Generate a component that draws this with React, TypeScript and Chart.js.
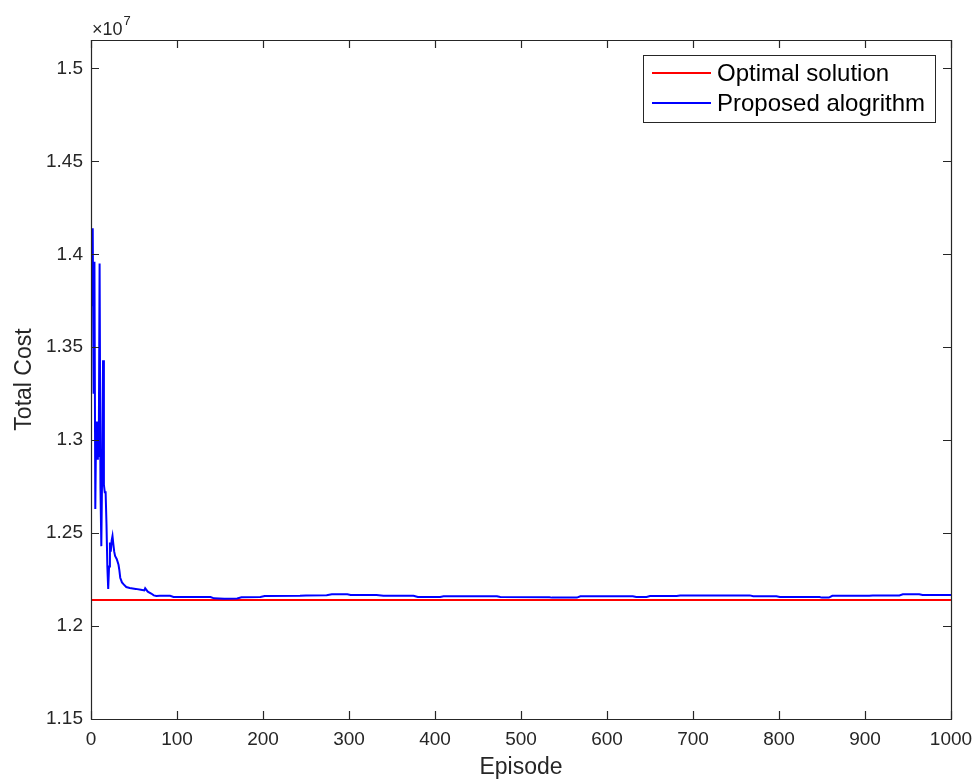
import React, { useEffect, useRef } from "react";
import { Chart, registerables } from "chart.js";

Chart.register(...registerables);

// ---- data (cost values in units of 1e7) ----
const SCALE = 1e7;
const episodes = [
  1, 2, 3, 4, 5, 6, 7, 8, 9, 10, 11, 12, 13, 14, 15, 16, 17, 18, 19, 20,
  21, 22, 23, 24, 25, 26, 27, 28, 30, 32, 33, 34, 36, 38, 41, 45, 52, 58,
  62, 63, 66, 70, 73, 76, 80, 92, 96, 120, 139, 143, 155, 170, 175, 197,
  202, 243, 250, 274, 280, 298, 302, 332, 340, 375, 380, 406, 410, 472,
  476, 533, 536, 565, 569, 630, 634, 646, 650, 681, 685, 766, 770, 797,
  801, 847, 850, 858, 862, 905, 909, 940, 944, 963, 967, 1000,
];
const proposedCost = [
  1.372, 1.414, 1.325, 1.396, 1.263, 1.31, 1.29, 1.31, 1.291, 1.395, 1.275,
  1.243, 1.285, 1.343, 1.276, 1.272, 1.272, 1.255, 1.232, 1.22,
  1.232, 1.245, 1.24, 1.246, 1.2485, 1.244, 1.24, 1.2377, 1.236, 1.233,
  1.23, 1.226, 1.2235, 1.2224, 1.221, 1.2205, 1.22, 1.2195,
  1.2192, 1.2203, 1.2185, 1.2175, 1.2165, 1.2162, 1.2163, 1.2163, 1.2157,
  1.2156, 1.2156, 1.2149, 1.2147, 1.2148, 1.2155, 1.2156,
  1.2162, 1.2163, 1.2165, 1.2166, 1.2171, 1.2171, 1.2167, 1.2167, 1.2163,
  1.2163, 1.2156, 1.2156, 1.216, 1.216,
  1.2156, 1.2155, 1.2153, 1.2153, 1.216, 1.216, 1.2156, 1.2156, 1.2162,
  1.2162, 1.2165, 1.2165, 1.216, 1.216,
  1.2156, 1.2156, 1.2153, 1.2153, 1.2163, 1.2163, 1.2165, 1.2165, 1.2171,
  1.2171, 1.2167, 1.2167,
];
const optimalEpisodes = [0, 1000];
const optimalCost = [1.214, 1.214];
const xTicks = [0, 100, 200, 300, 400, 500, 600, 700, 800, 900, 1000];
const yTicks = [1.15, 1.2, 1.25, 1.3, 1.35, 1.4, 1.45, 1.5];
const yMin = 1.15;
const yMax = 1.5153;
const seriesNames = ["Optimal solution", "Proposed alogrithm"];
const seriesColors = ["rgb(255,0,0)", "rgb(0,0,255)"];

const FONT = "'Liberation Sans', Arial, Helvetica, sans-serif";
const AXIS_COLOR = "#262626";

const fmt = (v: number) => String(parseFloat(v.toFixed(2)));

const decorPlugin = {
  id: "matlabDecor",
  afterDatasetsDraw(chart: any) {
    const { ctx, chartArea: a, scales } = chart;
    const xs = scales.x;
    const ys = scales.y;
    ctx.save();
    ctx.strokeStyle = AXIS_COLOR;
    ctx.lineWidth = 1.2;
    ctx.beginPath();
    ctx.rect(Math.round(a.left) + 0.5, Math.round(a.top) + 0.5, Math.round(a.right - a.left), Math.round(a.bottom - a.top));
    ctx.stroke();
    const tl = 8;
    ctx.beginPath();
    xTicks.forEach((t) => {
      const px = Math.round(xs.getPixelForValue(t)) + 0.5;
      ctx.moveTo(px, a.bottom);
      ctx.lineTo(px, a.bottom - tl);
      ctx.moveTo(px, a.top);
      ctx.lineTo(px, a.top + tl);
    });
    yTicks.forEach((t) => {
      const py = Math.round(ys.getPixelForValue(t * SCALE)) + 0.5;
      ctx.moveTo(a.left, py);
      ctx.lineTo(a.left + tl, py);
      ctx.moveTo(a.right, py);
      ctx.lineTo(a.right - tl, py);
    });
    ctx.stroke();

    // exponent label
    ctx.fillStyle = AXIS_COLOR;
    ctx.textBaseline = "alphabetic";
    ctx.textAlign = "left";
    ctx.font = `18px ${FONT}`;
    const base = "\u00d710";
    ctx.fillText(base, a.left + 1, a.top - 5);
    const w = ctx.measureText(base).width;
    ctx.font = `13px ${FONT}`;
    ctx.fillText("7", a.left + 1 + w + 1, a.top - 15);

    // legend
    const lw = 292;
    const lh = 67;
    const lx = a.right - 16 - lw;
    const ly = a.top + 15;
    ctx.fillStyle = "#ffffff";
    ctx.fillRect(lx, ly, lw, lh);
    ctx.strokeStyle = AXIS_COLOR;
    ctx.lineWidth = 1;
    ctx.strokeRect(lx + 0.5, ly + 0.5, lw, lh);
    ctx.font = `24px ${FONT}`;
    ctx.textBaseline = "middle";
    seriesNames.forEach((name, i) => {
      const cy = ly + 18 + i * 30;
      ctx.strokeStyle = seriesColors[i];
      ctx.lineWidth = 2;
      ctx.beginPath();
      ctx.moveTo(lx + 9, cy);
      ctx.lineTo(lx + 68, cy);
      ctx.stroke();
      ctx.fillStyle = "#000000";
      ctx.fillText(name, lx + 74, cy + 1);
    });
    ctx.restore();
  },
};

export default function App() {
  const ref = useRef<HTMLCanvasElement | null>(null);
  useEffect(() => {
    document.body.style.margin = "0";
    if (!ref.current) return;
    const chart = new Chart(ref.current, {
      type: "line",
      data: {
        datasets: [
          {
            label: seriesNames[1],
            data: episodes.map((e, i) => ({ x: e, y: proposedCost[i] * SCALE })),
            borderColor: seriesColors[1],
            borderWidth: 2,
            pointRadius: 0,
            tension: 0,
            order: 0,
          },
          {
            label: seriesNames[0],
            data: optimalEpisodes.map((e, i) => ({ x: e, y: optimalCost[i] * SCALE })),
            borderColor: seriesColors[0],
            borderWidth: 2,
            pointRadius: 0,
            tension: 0,
            order: 1,
          },
        ],
      },
      options: {
        animation: false,
        responsive: true,
        maintainAspectRatio: false,
        layout: { padding: { top: 40, right: 22, left: 0, bottom: 0 } },
        plugins: { legend: { display: false }, tooltip: { enabled: false } },
        scales: {
          x: {
            type: "linear",
            min: 0,
            max: 1000,
            afterBuildTicks: (s: any) => {
              s.ticks = xTicks.map((v) => ({ value: v }));
            },
            afterFit: (s: any) => {
              s.height = 60;
              s.paddingLeft = 0;
              s.paddingRight = 0;
            },
            grid: { display: false, drawTicks: false },
            border: { display: false },
            ticks: {
              color: AXIS_COLOR,
              font: { family: FONT, size: 19 },
              padding: 9,
              maxRotation: 0,
              autoSkip: false,
              callback: (v: any) => String(v),
            },
            title: {
              display: true,
              text: "Episode",
              color: AXIS_COLOR,
              font: { family: FONT, size: 23, lineHeight: 1 },
              padding: { top: 0, bottom: 0 },
            },
          },
          y: {
            type: "linear",
            min: yMin * SCALE,
            max: yMax * SCALE,
            afterBuildTicks: (s: any) => {
              s.ticks = yTicks.map((v) => ({ value: v * SCALE }));
            },
            afterFit: (s: any) => {
              s.width = 91;
              s.paddingTop = 0;
              s.paddingBottom = 0;
            },
            grid: { display: false, drawTicks: false },
            border: { display: false },
            ticks: {
              color: AXIS_COLOR,
              font: { family: FONT, size: 19 },
              padding: 8,
              autoSkip: false,
              callback: (v: any) => fmt(Number(v) / SCALE),
            },
            title: {
              display: true,
              text: "Total Cost",
              color: AXIS_COLOR,
              font: { family: FONT, size: 23, lineHeight: 1 },
              padding: { top: 13, bottom: 0 },
            },
          },
        },
      },
      plugins: [decorPlugin],
    });
    return () => chart.destroy();
  }, []);
  return (
    <div style={{ width: 973, height: 779, position: "relative" }}>
      <canvas ref={ref} />
    </div>
  );
}
